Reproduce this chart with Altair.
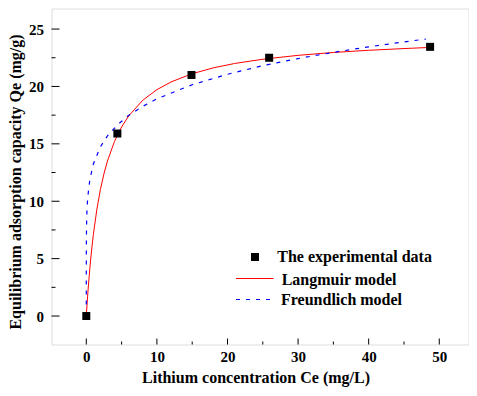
import altair as alt
import pandas as pd

x_title = "Lithium concentration Ce (mg/L)"
y_title = "Equilibrium adsorption capacity Qe (mg/g)"
legend_labels = ["The experimental data", "Langmuir model", "Freundlich model"]

# experimental points
exp_ce = [0, 4.4, 14.9, 25.9, 48.7]
exp_qe = [0, 15.9, 21.0, 22.5, 23.45]

# Langmuir model curve
lang_ce = [0, 0.1, 0.25, 0.5, 0.75, 1, 1.5, 2, 2.5, 3, 4, 5, 6, 8, 10, 12, 15, 18, 21, 25, 30, 35, 40, 45, 48.7]
lang_qe = [0, 0.96, 2.27, 4.15, 5.75, 7.11, 9.31, 11.03, 12.39, 13.51, 15.22, 16.47, 17.43, 18.80, 19.72, 20.39,
           21.11, 21.62, 22.00, 22.37, 22.71, 22.96, 23.15, 23.30, 23.40]

# Freundlich model curve
freu_ce = [0, 0.0001, 0.001, 0.01, 0.05, 0.1, 0.2, 0.5, 1, 2, 3, 4.5, 6, 8, 10, 15, 20, 25, 30, 35, 40, 45, 48.1]
freu_qe = [1.0, 3.18, 4.54, 6.49, 8.32, 9.27, 10.32, 11.89, 13.24, 14.74, 15.70, 16.7, 17.48, 18.27, 18.92,
           20.15, 21.06, 21.81, 22.43, 22.97, 23.45, 23.88, 24.13]

x_label_values = [0, 10, 20, 30, 40, 50]
x_minor_values = [5, 15, 25, 35, 45]
y_label_values = [0, 5, 10, 15, 20, 25]
y_minor_values = [2.5, 7.5, 12.5, 17.5, 22.5]

FONT = "Liberation Serif, Times New Roman, Times, serif"
W, H = 417, 336

xscale = alt.Scale(domain=[-4.93, 54.14], nice=False, zero=False)
yscale = alt.Scale(domain=[-2.48, 26.79], nice=False, zero=False)

exp_df = pd.DataFrame({"Ce": exp_ce, "Qe": exp_qe})
lang_df = pd.DataFrame({"Ce": lang_ce, "Qe": lang_qe})
freu_df = pd.DataFrame({"Ce": freu_ce, "Qe": freu_qe})

lang = alt.Chart(lang_df).mark_line(color="#ff0000", strokeWidth=1).encode(
    x=alt.X("Ce:Q", scale=xscale, axis=None),
    y=alt.Y("Qe:Q", scale=yscale, axis=None),
)

freu = alt.Chart(freu_df).mark_line(color="#0000ff", strokeWidth=1.2, strokeDash=[4, 6]).encode(
    x=alt.X("Ce:Q", scale=xscale, axis=None),
    y=alt.Y("Qe:Q", scale=yscale, axis=None),
)

points = alt.Chart(exp_df).mark_point(shape="square", filled=True, size=64, color="black", opacity=1).encode(
    x=alt.X("Ce:Q", scale=xscale, axis=alt.Axis(
        orient="bottom", values=x_label_values, ticks=False, domain=False, grid=False,
        labelFont=FONT, labelFontSize=15, labelFontWeight="bold", labelColor="black", labelPadding=5,
        title=x_title, titleFont=FONT, titleFontSize=16, titleFontWeight="bold", titleColor="black",
        titleX=204, titleY=38, titleBaseline="alphabetic", titleAlign="center")),
    y=alt.Y("Qe:Q", scale=yscale, axis=alt.Axis(
        orient="left", values=y_label_values, ticks=False, domain=False, grid=False,
        labelFont=FONT, labelFontSize=15, labelFontWeight="bold", labelColor="black", labelPadding=8,
        title=y_title, titleFont=FONT, titleFontSize=16, titleFontWeight="bold", titleColor="black",
        titleX=-36, titleY=173, titleBaseline="middle", titleAlign="center", titleAngle=270)),
)


# inward ticks, positioned through the scales
def xticks(values, length):
    return alt.Chart(pd.DataFrame({"v": values})).mark_rule(color="black", strokeWidth=1).encode(
        x=alt.X("v:Q", scale=xscale, axis=None), y=alt.value(H), y2=alt.value(H - length))


def yticks(values, length):
    return alt.Chart(pd.DataFrame({"v": values})).mark_rule(color="black", strokeWidth=1).encode(
        y=alt.Y("v:Q", scale=yscale, axis=None), x=alt.value(0), x2=alt.value(length))


# legend
leg_sq = alt.Chart(pd.DataFrame({"label": [legend_labels[0]]})).mark_point(
    shape="square", filled=True, size=64, color="black", opacity=1
).encode(x=alt.value(203.5), y=alt.value(248.5))

leg_red = alt.Chart(pd.DataFrame({"label": [legend_labels[1]]})).mark_rule(
    color="#ff0000", strokeWidth=1
).encode(x=alt.value(184.5), x2=alt.value(222), y=alt.value(270))

leg_blue = alt.Chart(pd.DataFrame({"label": [legend_labels[2]]})).mark_rule(
    color="#0000ff", strokeWidth=1.2, strokeDash=[4, 6]
).encode(x=alt.value(184.5), x2=alt.value(222), y=alt.value(291))


def leg_text(label, x, y):
    return alt.Chart(pd.DataFrame({"label": [label]})).mark_text(
        align="left", baseline="alphabetic", font=FONT, fontSize=16, fontWeight="bold", color="black"
    ).encode(x=alt.value(x), y=alt.value(y), text="label:N")


chart = alt.layer(
    xticks(x_label_values, 6), xticks(x_minor_values, 3),
    yticks(y_label_values, 8), yticks(y_minor_values, 4),
    lang, freu, points,
    leg_sq, leg_red, leg_blue,
    leg_text(legend_labels[0], 225.8, 253.2),
    leg_text(legend_labels[1], 230.2, 276.5),
    leg_text(legend_labels[2], 229.5, 296.5),
).resolve_axis(x="independent", y="independent").properties(
    width=W, height=H,
    autosize=alt.AutoSizeParams(type="none"),
    padding={"left": 43.5, "top": 0.5, "right": 0.5, "bottom": 43.5},
).configure_view(stroke="black", strokeWidth=1.5).configure(background="white")

chart.save("out.html", embed_options={"renderer": "svg", "actions": False})
